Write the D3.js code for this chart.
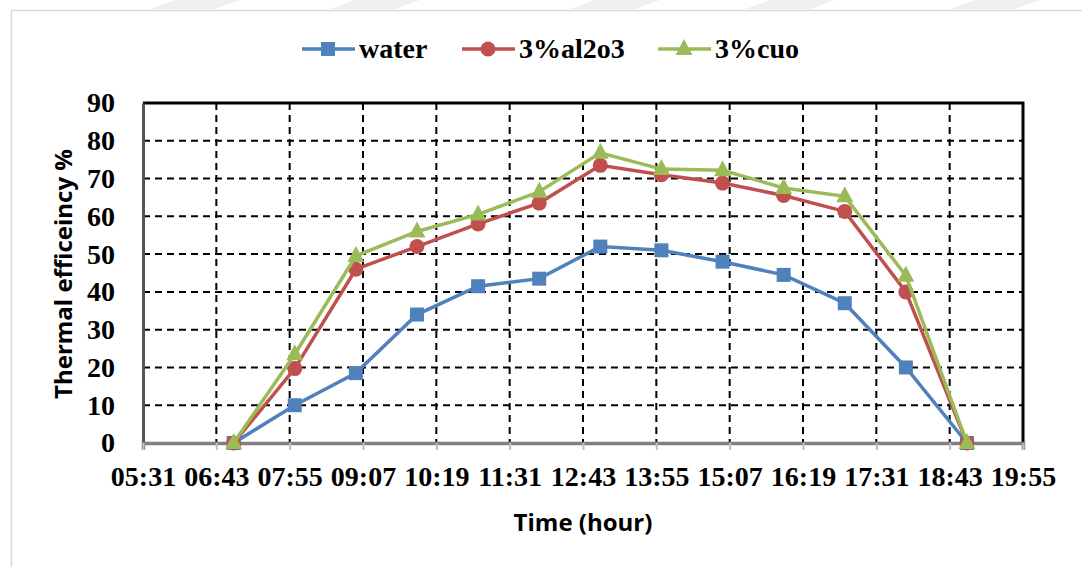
<!DOCTYPE html>
<html>
<head>
<meta charset="utf-8">
<script src="https://cdn.jsdelivr.net/npm/d3@7"></script>
<style>
  body { margin: 0; background: #fff; }
  svg { display: block; }
</style>
</head>
<body>
<svg id="my-svg"></svg>
<script>
// data
const times = ["07:00", "08:00", "09:00", "10:00", "11:00", "12:00", "13:00",
               "14:00", "15:00", "16:00", "17:00", "18:00", "19:00"];
const water  = [0, 10, 18.5, 34, 41.5, 43.5, 52, 51, 48, 44.5, 37, 20, 0];
const al2o3  = [0, 19.7, 46, 52, 58, 63.5, 73.5, 71, 68.8, 65.5, 61.3, 40, 0];
const cuo    = [0, 23.5, 49.5, 56, 60.5, 66.5, 76.8, 72.5, 72.2, 67.5, 65.3, 44.3, 0];
const xTicks = ["05:31", "06:43", "07:55", "09:07", "10:19", "11:31", "12:43",
                "13:55", "15:07", "16:19", "17:31", "18:43", "19:55"];
const yTicks = [0, 10, 20, 30, 40, 50, 60, 70, 80, 90];

const series = [
  { name: "water",   values: water, color: "#4F81BD", shape: "square" },
  { name: "3%al2o3", values: al2o3, color: "#C0504D", shape: "circle" },
  { name: "3%cuo",   values: cuo,   color: "#9BBB59", shape: "triangle" }
];

function toMin(s) {
  let p = s.split(":");
  return +p[0] * 60 + +p[1];
}

const W = 1082, H = 567;
const plot = { left: 143, top: 103, right: 1023, bottom: 443 };
const serif = "'Liberation Serif', 'Times New Roman', serif";
const sans = "'Open Sans', 'Liberation Sans', sans-serif";

let svg = d3.select("#my-svg")
  .attr("width", W)
  .attr("height", H);

// faint watermark stripes along the top edge
let stripes = [[150, 215], [330, 395], [570, 635], [745, 810], [950, 1015]];
svg.selectAll("path.wm")
  .data(stripes)
  .enter().append("path")
    .attr("class", "wm")
    .attr("d", d => `M${d[0]},9 L${d[0] + 25},0 L${d[1] + 25},0 L${d[1]},9 Z`)
    .attr("fill", "#f0f0f0");

// outer chart frame
svg.append("rect")
  .attr("x", 11.5).attr("y", 10.5)
  .attr("width", W).attr("height", H)
  .attr("fill", "none")
  .attr("stroke", "#d9d9d9")
  .attr("stroke-width", 1.5);

let x = d3.scaleLinear()
  .domain([toMin(xTicks[0]), toMin(xTicks[xTicks.length - 1])])
  .range([plot.left, plot.right]);

let y = d3.scaleLinear()
  .domain([0, 90])
  .range([plot.bottom, plot.top]);

// grid
let grid = svg.append("g");
grid.selectAll("line.hg")
  .data(yTicks.slice(1, -1))
  .enter().append("line")
    .attr("class", "hg")
    .attr("x1", plot.left).attr("x2", plot.right)
    .attr("y1", d => y(d)).attr("y2", d => y(d))
    .attr("stroke", "#000")
    .attr("stroke-width", 2)
    .attr("stroke-dasharray", "7,5");
grid.selectAll("line.vg")
  .data(xTicks.slice(1, -1))
  .enter().append("line")
    .attr("class", "vg")
    .attr("x1", d => x(toMin(d))).attr("x2", d => x(toMin(d)))
    .attr("y1", plot.top).attr("y2", plot.bottom)
    .attr("stroke", "#000")
    .attr("stroke-width", 2)
    .attr("stroke-dasharray", "7,5");

// top and right border
svg.append("path")
  .attr("d", `M${plot.left},${plot.top} H${plot.right} V${plot.bottom}`)
  .attr("fill", "none")
  .attr("stroke", "#000")
  .attr("stroke-width", 3);

// y axis
let yAxis = svg.append("g")
  .attr("transform", `translate(${plot.left},0)`)
  .call(d3.axisLeft(y).tickValues(yTicks).tickSize(0).tickPadding(28));
yAxis.select(".domain")
  .attr("stroke", "#555").attr("stroke-width", 3);
yAxis.selectAll("text")
  .attr("font-family", serif)
  .attr("font-weight", "bold")
  .attr("font-size", 28)
  .attr("fill", "#000");

// x axis
let xAxis = svg.append("g")
  .attr("transform", `translate(0,${plot.bottom})`)
  .call(d3.axisBottom(x)
    .tickValues(xTicks.map(toMin))
    .tickFormat((d, i) => xTicks[i])
    .tickSizeOuter(0)
    .tickSize(7)
    .tickPadding(16));
xAxis.select(".domain")
  .attr("stroke", "#808080").attr("stroke-width", 3.5);
xAxis.selectAll(".tick line")
  .attr("stroke", "#bfbfbf").attr("stroke-width", 2);
xAxis.selectAll("text")
  .attr("font-family", serif)
  .attr("font-weight", "bold")
  .attr("font-size", 28)
  .attr("fill", "#000");

// axis titles
svg.append("text")
  .attr("x", 583).attr("y", 531)
  .attr("text-anchor", "middle")
  .attr("font-family", sans)
  .attr("font-weight", "bold")
  .attr("font-size", 24)
  .text("Time (hour)");

svg.append("text")
  .attr("transform", "translate(72,274) rotate(-90)")
  .attr("text-anchor", "middle")
  .attr("font-family", sans)
  .attr("font-weight", "bold")
  .attr("font-size", 24)
  .text("Thermal efficeincy %");

// markers
function drawMarker(g, shape, color, cx, cy) {
  if (shape === "square") {
    g.append("rect")
      .attr("x", cx - 7).attr("y", cy - 7)
      .attr("width", 14).attr("height", 14)
      .attr("fill", color);
  } else if (shape === "circle") {
    g.append("circle")
      .attr("cx", cx).attr("cy", cy).attr("r", 7.5)
      .attr("fill", color);
  } else {
    g.append("path")
      .attr("d", `M${cx},${cy - 10} L${cx + 8.5},${cy + 6} L${cx - 8.5},${cy + 6} Z`)
      .attr("fill", color);
  }
}

let line = d3.line()
  .x((d, i) => x(toMin(times[i])))
  .y(d => y(d));

series.forEach(s => {
  let g = svg.append("g");
  g.append("path")
    .attr("d", line(s.values))
    .attr("fill", "none")
    .attr("stroke", s.color)
    .attr("stroke-width", 3.5);
  s.values.forEach((v, i) => drawMarker(g, s.shape, s.color, x(toMin(times[i])), y(v)));
});

// legend
let legendX = [302, 462, 658];
series.forEach((s, i) => {
  let g = svg.append("g");
  let lx = legendX[i];
  g.append("line")
    .attr("x1", lx).attr("x2", lx + 53)
    .attr("y1", 49).attr("y2", 49)
    .attr("stroke", s.color)
    .attr("stroke-width", 3.5);
  drawMarker(g, s.shape, s.color, lx + 26, 49);
  g.append("text")
    .attr("x", lx + 57).attr("y", 58)
    .attr("font-family", serif)
    .attr("font-weight", "bold")
    .attr("font-size", 28)
    .text(s.name);
});
</script>
</body>
</html>
